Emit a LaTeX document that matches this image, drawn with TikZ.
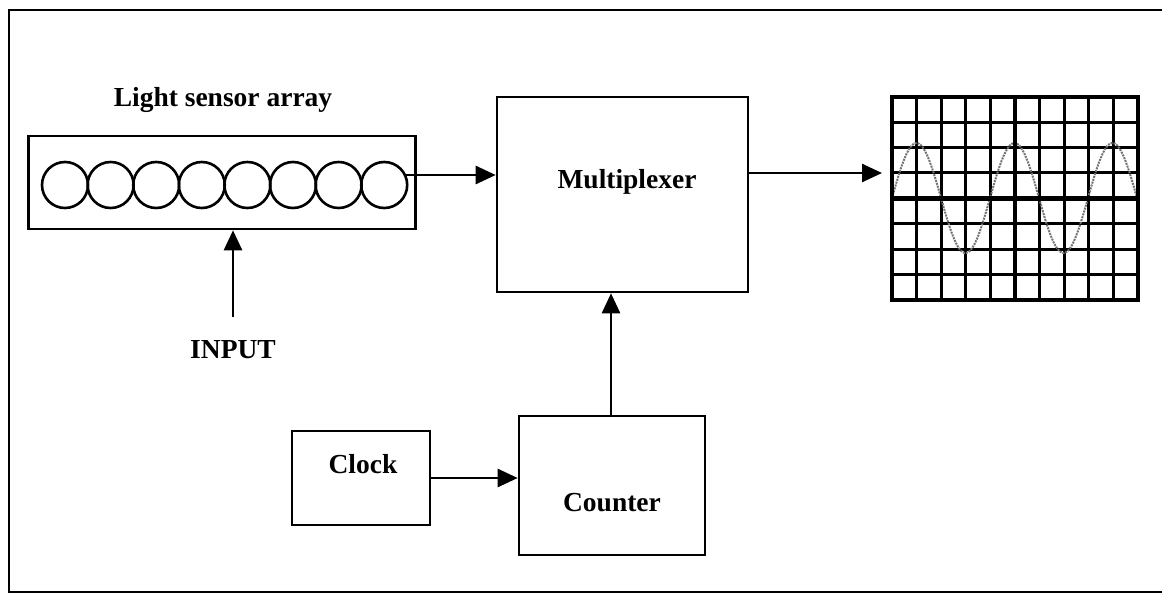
\documentclass[tikz,border=0pt]{standalone}
\usepackage{fontspec}
\setmainfont{Liberation Serif}
\usetikzlibrary{arrows.meta,calc}
\tikzset{
  box/.style={draw, line width=2.6pt, rectangle, inner sep=0pt},
  lbl/.style={font=\fontsize{27.5}{32}\selectfont\bfseries, inner sep=0pt},
  conn/.style={line width=2.6pt, -{Triangle[length=20pt,width=18pt]}},
  sensor/.style={draw, line width=2.6pt, circle, minimum size=46pt, inner sep=0pt},
  gridln/.style={line width=3pt},
  thickln/.style={line width=4.5pt},
  wave/.style={black!55, line width=2pt, densely dotted}
}
\begin{document}
\begin{tikzpicture}[x=1pt,y=-1pt]
\useasboundingbox (0,0) rectangle (1162,594);
% outer frame
\draw[line width=2.4pt] (1162,10) -- (9,10) -- (9,592) -- (1162,592);
% sensor array
\node[box, minimum width=387pt, minimum height=93pt] (arr) at (222,182.5) {};
\node[lbl] (arrlbl) at (223,100) {Light sensor array};
\foreach \i in {0,...,7}{
  \node[sensor] (c\i) at ({65+\i*45.6},185) {};
}
\coordinate (arrout) at (406,175);
% multiplexer
\node[box, minimum width=251pt, minimum height=195pt] (mux) at (622.5,194.5) {};
\node[lbl] (muxlbl) at (627,182) {Multiplexer};
% clock and counter
\node[box, minimum width=138pt, minimum height=94pt] (clk) at (361,478) {};
\node[lbl] (clklbl) at (363,464) {Clock};
\node[box, minimum width=186pt, minimum height=139pt] (cnt) at (612,485.5) {};
\node[lbl] (cntlbl) at (612,503) {Counter};
% input
\node[lbl] (inp) at (233,350) {INPUT};
\coordinate (inptail) at (233,317);
% scope
\node[inner sep=0pt, minimum width=246pt, minimum height=203pt] (scope) at (1015,198.5) {};
\foreach \k in {1,...,9}{
  \draw[gridln] ($(scope.north west)+(\k*24.6,0)$) -- ($(scope.south west)+(\k*24.6,0)$);
}
\foreach \k in {1,...,7}{
  \draw[gridln] ($(scope.north west)+(0,\k*25.375)$) -- ($(scope.north east)+(0,\k*25.375)$);
}
\draw[wave] plot[domain=0:246, samples=120] ({892+\x}, {198-55*sin(\x*3.6735)});
\draw[thickln] (scope.north) -- (scope.south);
\draw[thickln] (scope.west) -- (scope.east);
\draw[thickln] (scope.north west) rectangle (scope.south east);
% connectors
\coordinate (muxout) at (748,173);
\coordinate (scopein) at (882,173);
\coordinate (cntx) at (611,0);
\draw[conn] (arrout) -- (arrout -| mux.west);
\draw[conn] (muxout) -- (scopein);
\draw[conn] (inptail) -- (inptail |- arr.south);
\draw[conn] (clk.east) -- (clk.east -| cnt.west);
\draw[conn] (cnt.north -| cntx) -- (mux.south -| cntx);
\end{tikzpicture}
\end{document}
